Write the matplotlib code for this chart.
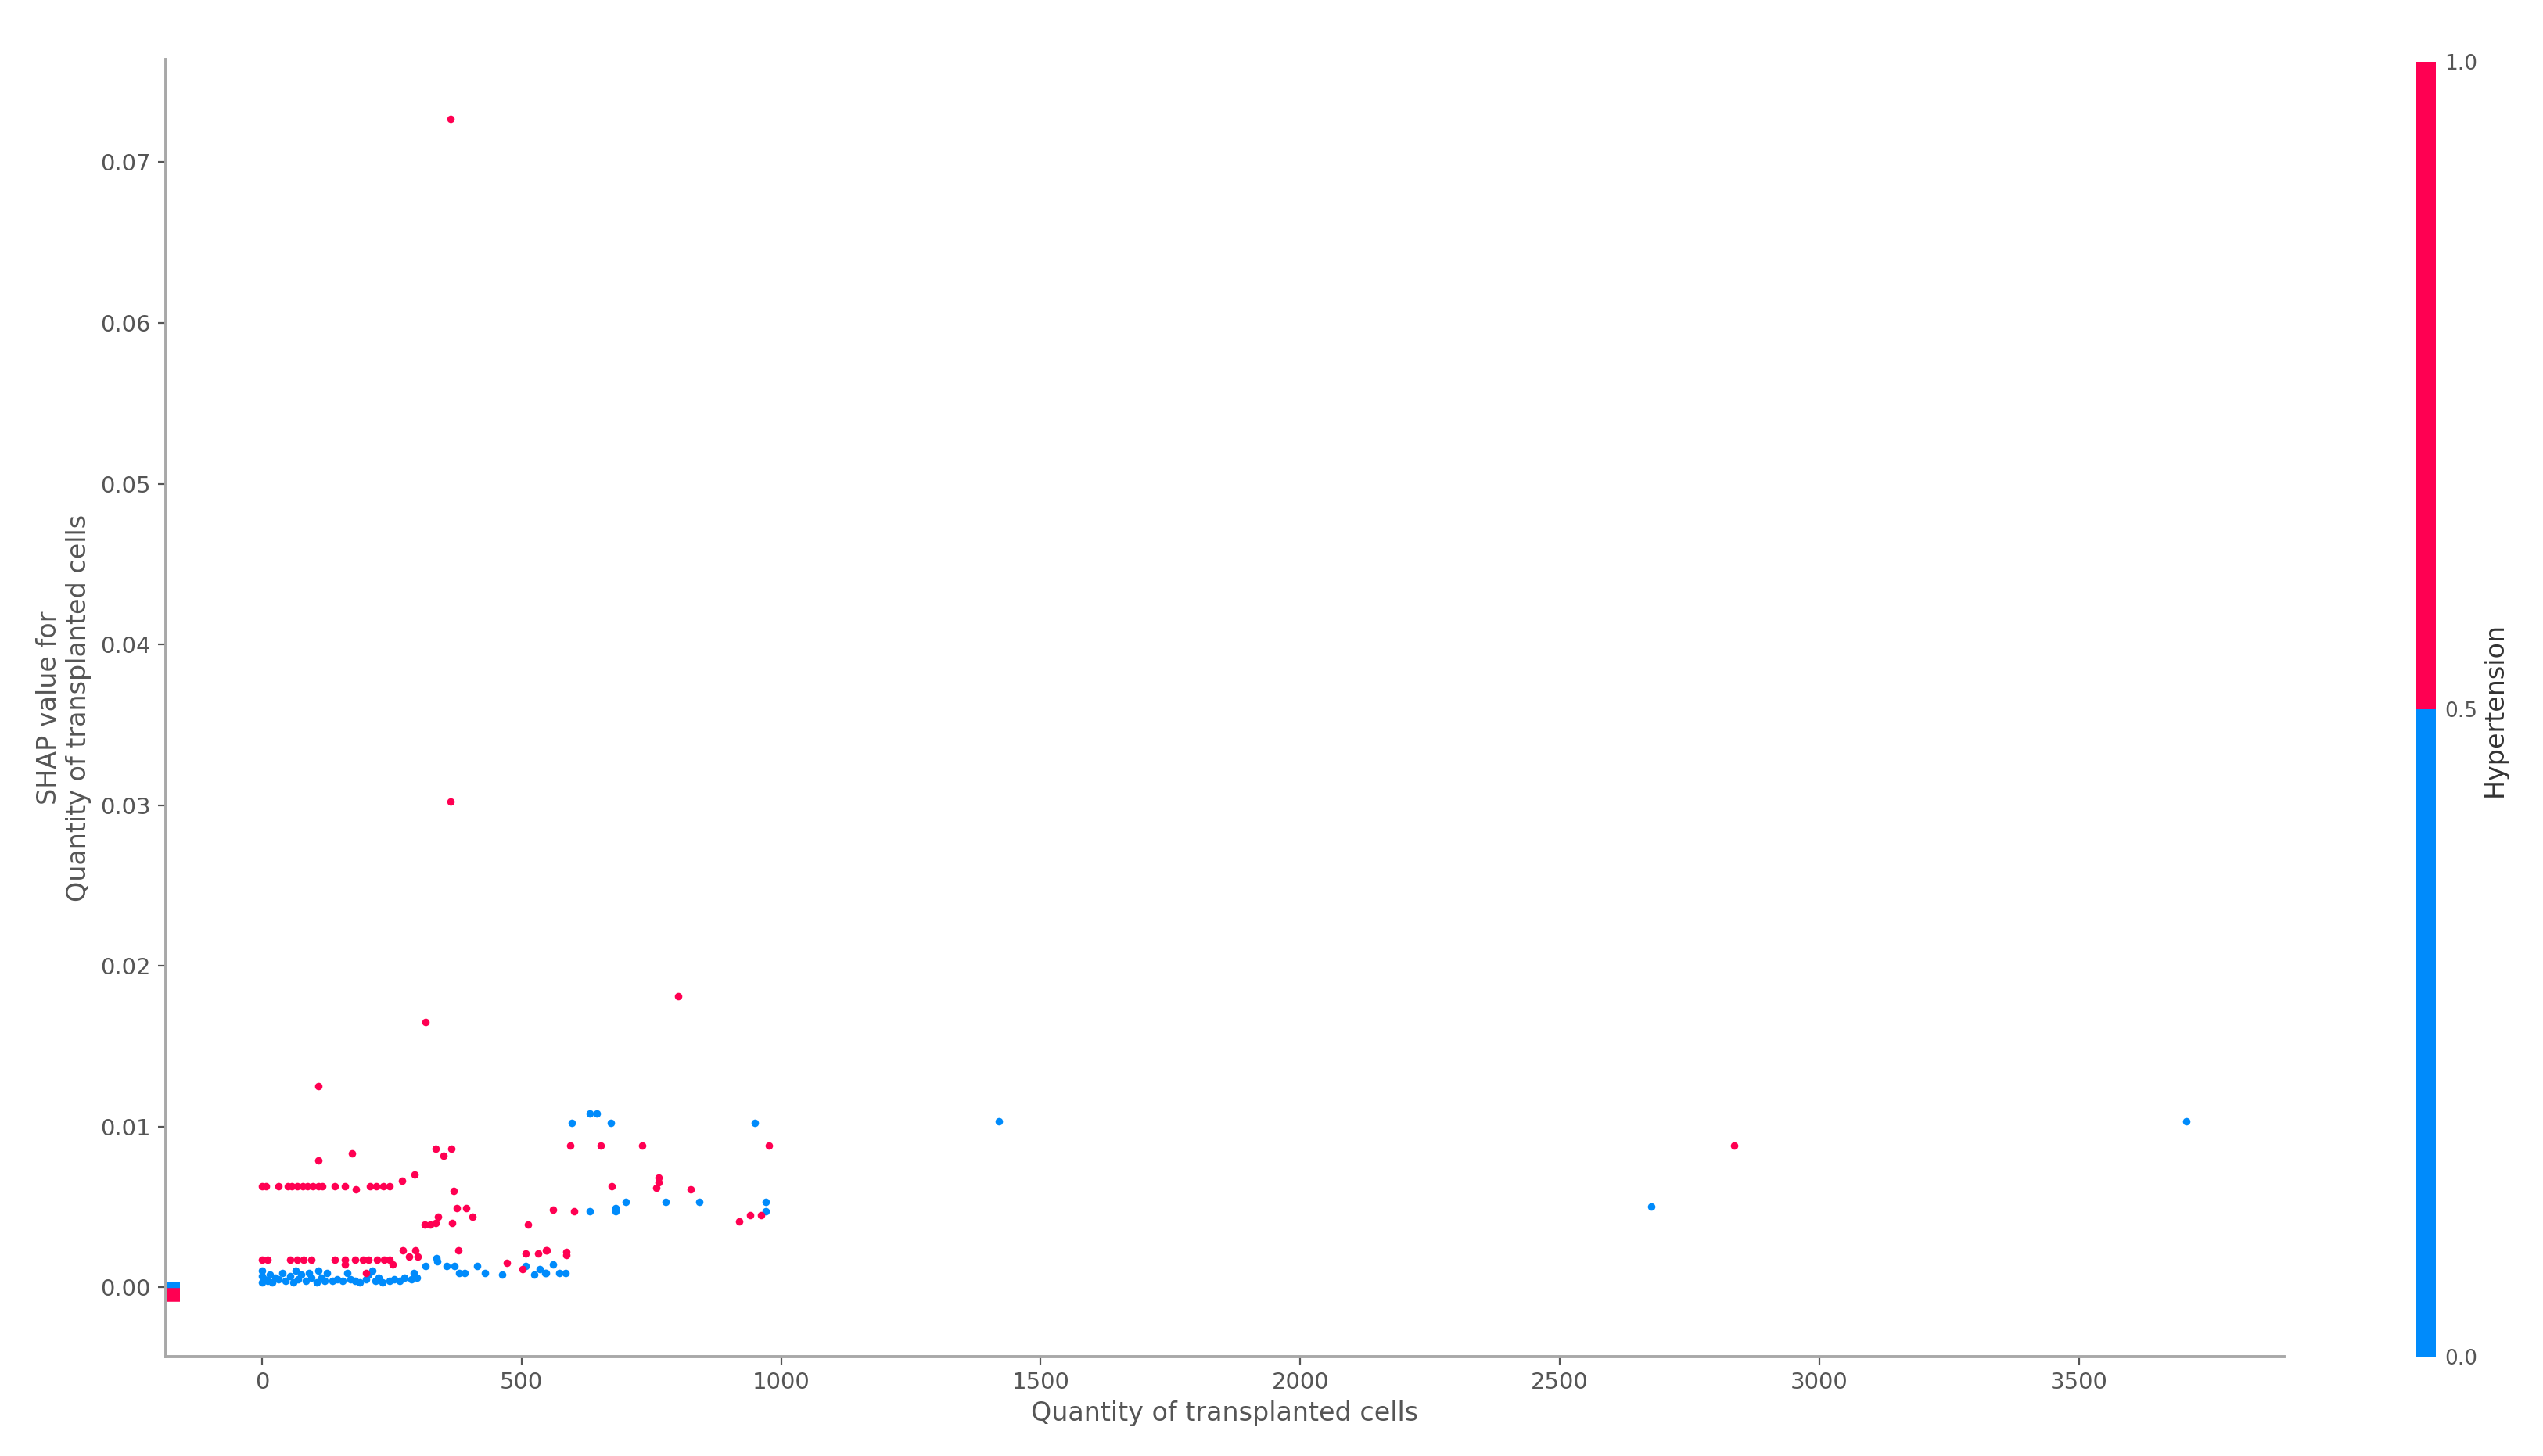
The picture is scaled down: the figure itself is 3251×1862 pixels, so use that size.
import numpy as np
import matplotlib
matplotlib.use("Agg")
import matplotlib.pyplot as plt
from matplotlib.colors import ListedColormap, BoundaryNorm

# SHAP dependence plot: Quantity of transplanted cells, coloured by Hypertension

# hypertension = 1 (red)
red_x = [363, 363, 315, 801, 2835, 108, 108, 174,
         0, 8, 32, 50, 58, 68, 78, 88, 98, 108, 116, 140, 160, 181, 208, 220, 233, 246,
         270, 294, 334, 350, 364, 369, 376, 394, 405, 366,
         314, 324, 334, 339, 379, 512, 472, 502, 508, 532, 547,
         0, 10, 55, 68, 80, 95, 140, 160, 160, 180, 195, 205, 222, 235, 246, 252,
         271, 283, 296, 300, 200,
         594, 652, 732, 977, 673, 764, 764, 760, 826, 601, 561, 961, 941, 919, 548, 586, 586]
red_y = [0.0727, 0.0302, 0.0165, 0.0181, 0.0088, 0.0125, 0.0079, 0.0083,
         0.0063, 0.0063, 0.0063, 0.0063, 0.0063, 0.0063, 0.0063, 0.0063, 0.0063, 0.0063, 0.0063,
         0.0063, 0.0063, 0.0061, 0.0063, 0.0063, 0.0063, 0.0063,
         0.0066, 0.0070, 0.0086, 0.0082, 0.0086, 0.0060, 0.0049, 0.0049, 0.0044, 0.0040,
         0.0039, 0.0039, 0.0040, 0.0044, 0.0023, 0.0039, 0.0015, 0.0011, 0.0021, 0.0021, 0.0023,
         0.0017, 0.0017, 0.0017, 0.0017, 0.0017, 0.0017, 0.0017, 0.0017, 0.0014, 0.0017, 0.0017,
         0.0017, 0.0017, 0.0017, 0.0017, 0.0014,
         0.0023, 0.0019, 0.0023, 0.0019, 0.0009,
         0.0088, 0.0088, 0.0088, 0.0088, 0.0063, 0.0068, 0.0065, 0.0062, 0.0061, 0.0047, 0.0048,
         0.0045, 0.0045, 0.0041, 0.0023, 0.0022, 0.0020]

# hypertension = 0 (blue)
blue_x = [0, 0, 0, 5, 10, 15, 20, 25,
          32, 40, 45, 55, 60, 65, 70, 75,
          85, 90, 95, 105, 108, 115, 120, 125,
          135, 145, 155, 165, 170, 180, 188,
          200, 205, 212, 218, 225, 232, 245, 255, 265, 275,
          288, 292, 298,
          315, 336, 338, 355, 370, 380, 391, 414, 430, 462, 508, 524, 535, 547,
          545, 561, 572, 584, 597, 632, 645, 672, 950, 700, 681, 681, 632, 778, 842, 970, 970,
          1420, 2676, 3706]
blue_y = [0.0003, 0.0007, 0.0010, 0.0005, 0.0004, 0.0008, 0.0003, 0.0006,
          0.0005, 0.0009, 0.0004, 0.0007, 0.0003, 0.0010, 0.0005, 0.0008,
          0.0004, 0.0009, 0.0006, 0.0003, 0.0010, 0.0006, 0.0004, 0.0009,
          0.0004, 0.0005, 0.0004, 0.0009, 0.0005, 0.0004, 0.0003,
          0.0005, 0.0008, 0.0010, 0.0004, 0.0006, 0.0003, 0.0004, 0.0005, 0.0004, 0.0006,
          0.0005, 0.0009, 0.0006,
          0.0013, 0.0018, 0.0016, 0.0013, 0.0013, 0.0009, 0.0009, 0.0013, 0.0009, 0.0008,
          0.0013, 0.0008, 0.0011, 0.0009,
          0.0009, 0.0014, 0.0009, 0.0009, 0.0102, 0.0108, 0.0108, 0.0102, 0.0102, 0.0053,
          0.0047, 0.0049, 0.0047, 0.0053, 0.0053, 0.0053, 0.0047,
          0.0103, 0.0050, 0.0103]

# missing feature values (drawn at the left edge)
nan_blue_y = [0.0002, 0.0001, 0.0]
nan_red_y = [-0.0002, -0.0003, -0.0004, -0.0005, -0.0006, -0.0007, -0.0008]

xticks = [0, 500, 1000, 1500, 2000, 2500, 3000, 3500]
yticks = [0.00, 0.01, 0.02, 0.03, 0.04, 0.05, 0.06, 0.07]

blue = '#008bfb'
red = '#ff0052'
axis_color = '#555555'

all_x = red_x + blue_x
nan_x = min(all_x) - (max(all_x) - min(all_x)) / 20.0

fig = plt.figure(figsize=(16.255, 9.31), dpi=200)
ax = fig.add_axes([0.0652, 0.0682, 0.8330, 0.8910])

ax.scatter(blue_x, blue_y, s=12, c=blue, linewidths=0, zorder=3)
ax.scatter(red_x, red_y, s=12, c=red, linewidths=0, zorder=3)
ax.scatter([nan_x] * len(nan_blue_y), nan_blue_y, marker=1, s=40, c=blue, linewidths=2, zorder=2)
ax.scatter([nan_x] * len(nan_red_y), nan_red_y, marker=1, s=40, c=red, linewidths=2, zorder=2)

ax.set_xlim(nan_x, 3895)
ax.set_ylim(-0.00433, 0.0764)
ax.set_xticks(xticks)
ax.set_yticks(yticks)
ax.set_yticklabels(['%.2f' % v for v in yticks])

ax.spines['top'].set_visible(False)
ax.spines['right'].set_visible(False)
for s in ['left', 'bottom']:
    ax.spines[s].set_color('#a8a8a8')
    ax.spines[s].set_linewidth(1.4)
ax.tick_params(color=axis_color, labelcolor=axis_color, labelsize=10.5, length=3.5, width=0.8)

ax.set_xlabel('Quantity of transplanted cells', fontsize=12, color=axis_color, labelpad=3)
ax.set_ylabel('SHAP value for\nQuantity of transplanted cells', fontsize=12, color=axis_color, labelpad=4)

# colorbar
cax = fig.add_axes([0.9502, 0.0682, 0.0077, 0.8894])
cmap = ListedColormap([blue, red])
norm = BoundaryNorm([0, 0.5, 1.0], cmap.N)
cb = fig.colorbar(plt.cm.ScalarMappable(norm=norm, cmap=cmap), cax=cax, ticks=[0, 0.5, 1.0])
cb.set_ticklabels(['0.0', '0.5', '1.0'])
cb.outline.set_visible(False)
cax.tick_params(length=0, labelsize=9.5, labelcolor=axis_color, pad=4)
cb.set_label('Hypertension', fontsize=12, color='#333333', labelpad=2)

fig.savefig('out.png', dpi=200)
